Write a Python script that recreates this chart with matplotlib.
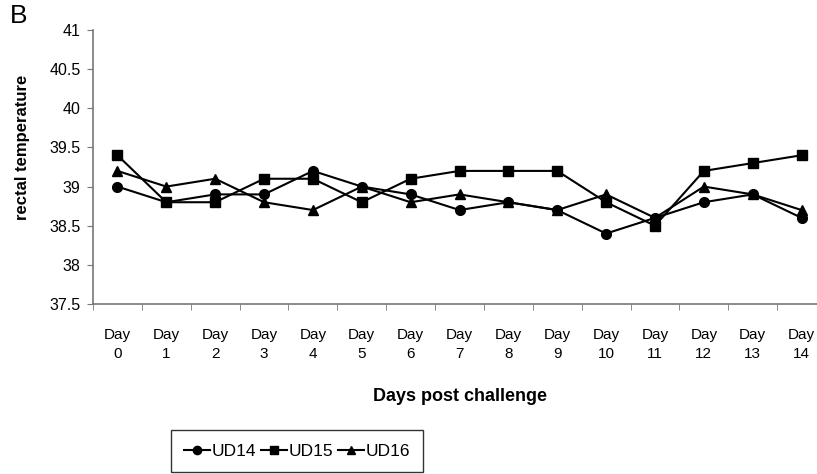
import matplotlib.pyplot as plt
import numpy as np

plt.rcParams["font.family"] = ["Liberation Sans", "DejaVu Sans"]

days = [f"Day\n{d}" for d in range(15)]
ud14 = [39.0, 38.8, 38.9, 38.9, 39.2, 39.0, 38.9, 38.7, 38.8, 38.7, 38.4, 38.6, 38.8, 38.9, 38.6]
ud15 = [39.4, 38.8, 38.8, 39.1, 39.1, 38.8, 39.1, 39.2, 39.2, 39.2, 38.8, 38.5, 39.2, 39.3, 39.4]
ud16 = [39.2, 39.0, 39.1, 38.8, 38.7, 39.0, 38.8, 38.9, 38.8, 38.7, 38.9, 38.6, 39.0, 38.9, 38.7]
y_ticks = [37.5, 38, 38.5, 39, 39.5, 40, 40.5, 41]

fig = plt.figure(figsize=(8.17, 4.74), dpi=100)
ax = fig.add_axes([93 / 817, 1 - 304 / 474, 733 / 817, 274 / 474])

x = np.arange(len(days))
ax.plot(x, ud14, color="black", lw=1.5, marker="o", ms=7, label="UD14")
ax.plot(x, ud15, color="black", lw=1.5, marker="s", ms=7, label="UD15")
ax.plot(x, ud16, color="black", lw=1.5, marker="^", ms=7, label="UD16")

ax.set_xlim(-0.5, len(days) - 0.5)
ax.set_ylim(37.5, 41)
ax.set_yticks(y_ticks)
ax.set_yticklabels([f"{v:g}" for v in y_ticks], fontsize=11.5)
ax.set_xticks(x)
ax.set_xticklabels(days, fontsize=11, linespacing=1.45)
ax.set_xticks(np.arange(-0.5, len(days), 1), minor=True)
ax.tick_params(axis="x", which="major", length=0, pad=17)
ax.tick_params(axis="x", which="minor", length=4, color="#777777")
ax.tick_params(axis="y", length=4, color="#777777", pad=5)

for side in ["top", "right"]:
    ax.spines[side].set_visible(False)
for side in ["left", "bottom"]:
    ax.spines[side].set_color("#777777")
    ax.spines[side].set_linewidth(1.2)

ax.set_ylabel("rectal temperature", fontsize=12, fontweight="bold")
ax.yaxis.set_label_coords(-0.086, 0.57)
ax.set_xlabel("Days post challenge", fontsize=13, fontweight="bold", labelpad=20)

fig.text(10 / 817, 1 - 16 / 474, "B", fontsize=19, va="center")

leg = fig.legend(loc="center", bbox_to_anchor=(297 / 817, 1 - 451 / 474), ncol=3,
                 fontsize=12.5, frameon=True, fancybox=False, edgecolor="black",
                 handlelength=1.5, columnspacing=0.25, handletextpad=0.1,
                 borderpad=0.75, markerscale=0.85)
leg.get_frame().set_linewidth(1.0)

fig.savefig("out.png", dpi=100)
